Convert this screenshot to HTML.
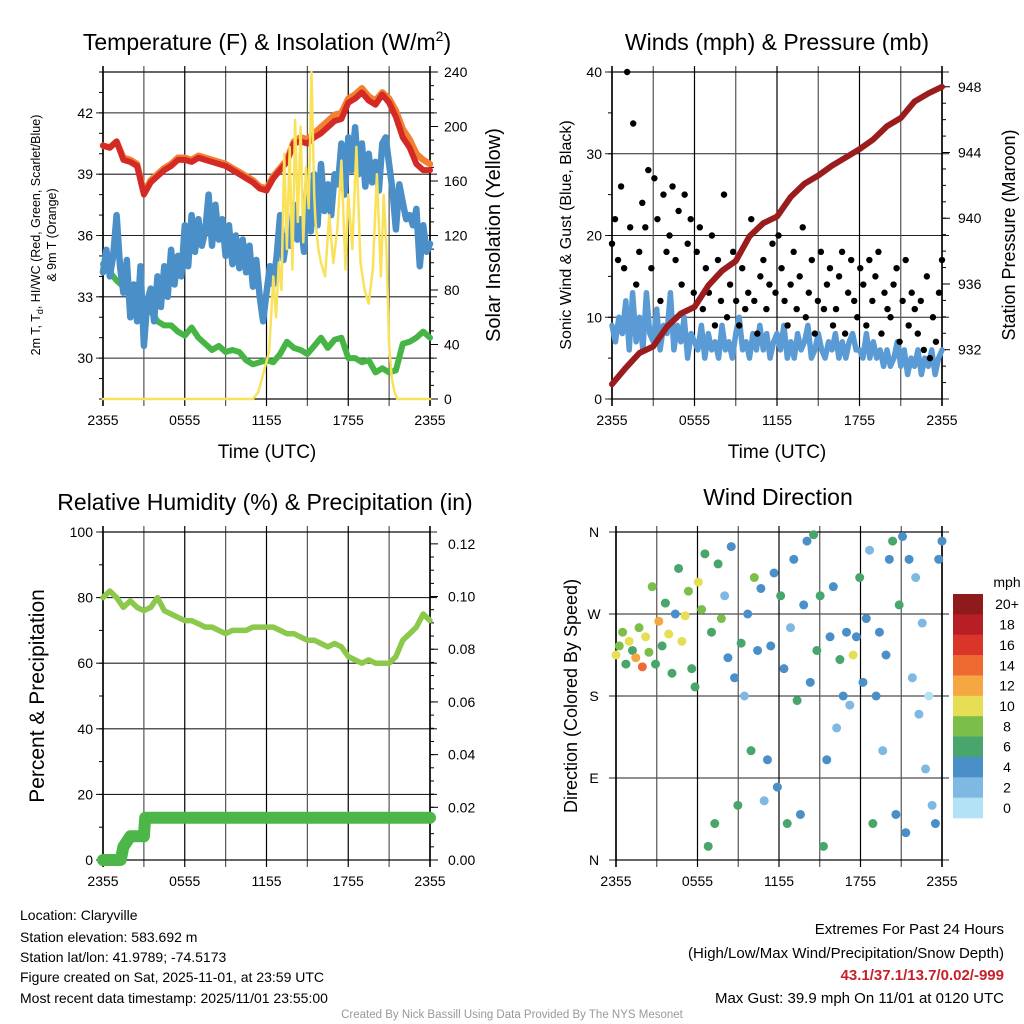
<!DOCTYPE html>
<html><head><meta charset="utf-8"><style>
body{margin:0;background:#fff;}
svg{display:block;font-family:"Liberation Sans",Arial,sans-serif;}
</style></head><body>
<svg id="c" width="1024" height="1024" viewBox="0 0 1024 1024" xmlns="http://www.w3.org/2000/svg">
<g id="g1"></g>
<g id="g2"></g>
<g id="g3"></g>
<g id="g4"></g>
<g font-size="14" fill="#000">
<text x="20" y="920">Location: Claryville</text>
<text x="20" y="942">Station elevation: 583.692 m</text>
<text x="20" y="962">Station lat/lon: 41.9789; -74.5173</text>
<text x="20" y="982">Figure created on Sat, 2025-11-01, at 23:59 UTC</text>
<text x="20" y="1003">Most recent data timestamp: 2025/11/01 23:55:00</text>
</g>
<g font-size="15" text-anchor="end">
<text x="1004" y="934">Extremes For Past 24 Hours</text>
<text x="1004" y="958">(High/Low/Max Wind/Precipitation/Snow Depth)</text>
<text x="1004" y="980" fill="#c8202a" font-weight="bold">43.1/37.1/13.7/0.02/-999</text>
<text x="1004" y="1003">Max Gust: 39.9 mph On 11/01 at 0120 UTC</text>
</g>
<text x="512" y="1018" text-anchor="middle" font-size="11.5" fill="#999">Created By Nick Bassill Using Data Provided By The NYS Mesonet</text>
</svg>
<script>
// ---- data ----
const xTickLabels = ["2355","0555","1155","1755","2355"];
const tempRed = [40.4,40.3,40.6,39.7,39.6,39.4,38.0,38.6,38.9,39.2,39.4,39.7,39.7,39.6,39.8,39.7,39.6,39.5,39.4,39.2,39.0,38.8,38.6,38.3,38.2,38.8,39.2,39.6,40.5,40.6,40.5,40.8,41.0,41.3,41.6,41.7,42.5,42.7,43.0,42.6,42.4,42.9,42.5,41.8,40.8,40.3,39.5,39.2,39.2];
const temp9m = [40.4,40.3,40.6,39.8,39.7,39.5,38.1,38.7,39.0,39.3,39.5,39.8,39.8,39.7,39.9,39.8,39.7,39.6,39.5,39.3,39.1,38.9,38.7,38.4,38.3,38.9,39.3,39.7,40.6,40.8,40.7,41.0,41.3,41.6,41.9,42.0,42.7,42.9,43.2,42.8,42.6,43.0,42.7,42.1,41.2,40.7,40.0,39.7,39.5];
const dewGreen = [34.6,34.2,33.8,33.5,33.0,32.5,32.5,32.3,31.8,31.6,31.6,31.3,31.1,31.5,31.0,30.7,30.4,30.6,30.3,30.4,30.3,29.9,29.7,29.8,29.9,29.8,30.2,30.8,30.5,30.4,30.2,30.6,31.0,30.5,30.9,31.0,30.0,30.0,29.8,29.9,29.3,29.5,29.3,29.4,30.7,30.8,31.0,31.3,31.0];
const windChill = [34.2,35.3,34.0,35.0,37.0,34.5,33.2,34.8,32.0,33.6,31.8,34.5,30.6,32.8,33.4,31.8,34.0,32.5,34.5,33.0,35.3,33.6,35.0,34.0,36.5,34.5,37.0,35.2,36.8,35.5,36.2,38.0,35.5,37.5,35.8,36.8,35.0,36.5,34.6,36.0,34.4,35.8,34.2,35.5,33.5,34.8,33.0,31.8,33.2,34.5,33.6,35.0,37.0,34.8,36.0,35.5,37.5,35.8,36.8,35.2,38.5,36.2,39.0,36.5,39.5,37.2,38.5,37.0,39.0,38.5,40.5,38.0,40.8,39.2,41.3,39.0,40.5,38.4,40.0,38.6,39.6,38.2,40.5,40.8,39.5,38.2,36.3,38.5,37.6,36.8,37.0,36.5,37.3,34.5,36.5,35.2,35.6];
const insolTimes = [0,11.0,11.4,11.8,12.2,12.5,12.7,12.9,13.1,13.3,13.5,13.7,13.9,14.1,14.3,14.5,14.7,14.9,15.1,15.3,15.5,15.6,15.8,16.0,16.3,16.6,16.9,17.2,17.5,17.8,18.0,18.3,18.6,18.9,19.2,19.5,19.8,20.1,20.4,20.6,20.8,21.0,21.2,21.4,21.6,22,24];
const insolValues = [0,0,5,20,35,90,60,100,80,180,110,185,95,205,130,200,115,170,140,240,150,130,110,100,90,135,100,125,175,95,150,110,185,100,80,70,95,165,90,150,110,40,15,5,0,0,0];
const sonicWind = [9,7,10,8,12,6,13,7,10,6,13,8,7,11,6,9,8,13,6,9,7,10,5,8,7,6,9,5,8,6,7,5,9,6,7,5,8,10,6,7,5,8,6,9,6,8,5,7,8,6,9,5,7,5,8,6,7,9,5,6,8,6,5,7,6,8,5,7,5,7,8,6,6,5,8,5,7,5,6,4,6,4,5,7,4,6,3,5,4,6,3,5,4,6,3,5,6];
const gusts = [19,22,17,26,16,40,21,33.7,14,18,24,21,28,16,27,22,12,25,18,20,26,17,23,14,25,19,22,13,18,21,11,16,13,20,9,17,12,25,10,14,18,12,9,16,11,13,22,12,8,15,17,11,14,19,13,20,16,12,9,14,18,11,15,21,10,13,17,8,12,18,11,14,16,9,11,15,18,8,13,17,12,10,16,14,9,17,12,15,18,8,13,11,10,14,16,7,12,17,9,13,11,8,12,6,15,5,10,7,13,17];
const pressure = [929.9,930.9,931.8,932.2,933.4,934.2,934.6,935.9,936.8,937.4,938.9,939.7,940.1,941.3,942.1,942.6,943.2,943.7,944.2,944.8,945.6,946.1,947.1,947.6,948.0];
const rh = [80,82,80,77,79,77,76,77,80,76,75,74,73,73,72,71,71,70,69,70,70,70,71,71,71,71,70,69,69,68,67,67,66,65,66,65,62,61,60,61,60,60,60,62,67,69,71,75,73];
const precipTimes = [0,1.3,1.5,2.0,3.0,3.1,24];
const precipValues = [0,0,0.005,0.009,0.009,0.016,0.016];
const windDir = [225,235,250,215,240,230,222,255,212,245,228,300,215,262,235,282,248,205,270,320,240,268,295,210,190,305,275,336,15,250,40,325,265,290,222,344,200,60,238,180,270,120,310,230,298,65,110,235,315,80,290,210,40,255,330,175,50,280,350,195,357,230,290,15,110,245,300,145,220,180,250,170,225,245,310,195,265,340,40,180,250,120,225,330,350,50,280,355,30,330,200,310,160,260,100,180,60,40,330,350];
const windSpd = [10,9,8,7,11,6,12,9,15,10,8,9,7,13,6,7,10,6,4,7,11,10,9,6,7,10,8,7,6,7,7,6,9,3,5,4,4,6,7,3,4,6,8,4,5,2,4,5,4,4,6,5,6,3,4,6,4,5,4,4,6,7,6,6,4,5,4,3,6,4,5,3,10,4,6,5,5,2,6,4,5,2,4,4,7,4,6,4,4,4,2,2,2,2,2,1,2,4,4,4];
const speedLabels = ["20+","18","16","14","12","10","8","6","4","2","0"];
const speedColors = ["#8f1a1c","#b81e25","#d93529","#ee6a30","#f5a742","#e6df55","#7bbf4a","#48a56c","#4a8fc7","#7db9e3","#b3e1f6"];
const dirLabels = ["N","E","S","W","N"];

// ---- helpers ----
const NS="http://www.w3.org/2000/svg";
function mk(parent,tag,attrs,txt){const e=document.createElementNS(NS,tag);for(const k in attrs)e.setAttribute(k,attrs[k]);if(txt!==undefined)e.textContent=txt;parent.appendChild(e);return e;}
function lin(d0,d1,r0,r1){return v=>r0+(v-d0)*(r1-r0)/(d1-d0);}
function pathFrom(ts,vs,sx,sy){return ts.map((t,i)=>(i?"L":"M")+sx(t).toFixed(1)+","+sy(vs[i]).toFixed(1)).join("");}
function uniformTimes(n){const a=[];for(let i=0;i<n;i++)a.push(i*24/(n-1));return a;}

function frame(g,L,R,T,B,sx){
  for(let h=0;h<=24;h+=3){
    const x=sx(h);
    const l=mk(g,"line",{x1:x,x2:x,y1:T-6,y2:B+7,stroke:h%6==0?"#000":"#555","stroke-width":h==0||h==24?1.6:1.2});
    
    
  }
  mk(g,"rect",{x:L,y:T,width:R-L,height:B-T,fill:"none",stroke:"#000","stroke-width":1.2});
  xTickLabels.forEach((s,i)=>{
    const t=mk(g,"text",{x:sx(i*6),y:B+26,"font-size":14,"text-anchor":"middle"},s);
    
    
  });
}
function hgrid(g,L,R,y,ext){
  const l=mk(g,"line",{x1:L-ext,x2:R+ext,y1:y,y2:y,stroke:"#222","stroke-width":1.1});
  
  
}
function ylab(g,x,y,s,anchor,size){
  const t=mk(g,"text",{x:x,y:y+5,"font-size":size||14,"text-anchor":anchor},s);
  
  
}
function rotText(g,x,y,s,size,name){
  const t=mk(g,"text",{x:0,y:0,"font-size":size,"text-anchor":"middle",transform:`translate(${x},${y}) rotate(-90)`},s);
  
  
  return t;
}
function title(g,x,y,s,name){
  const t=mk(g,"text",{x:x,y:y,"font-size":23,"text-anchor":"middle"},s);
  
  
  return t;
}
function series(g,d,color,w,name){
  const p=mk(g,"path",{d:d,fill:"none",stroke:color,"stroke-width":w,"stroke-linejoin":"round","stroke-linecap":"round"});
  
  
}

// ---- Panel 1 ----
(function(){
  const g=document.getElementById("g1");
  const L=103,R=430,T=72,B=399;
  const sx=lin(0,24,L,R), sy=lin(28,44,B,T), sy2=lin(0,240,B,T);
  [30,33,36,39,42].forEach(v=>{hgrid(g,L,R,sy(v),7);ylab(g,L-10,sy(v),String(v),"end");});
  for(let v=28;v<=44;v+=1){mk(g,"line",{x1:L-4,x2:L,y1:sy(v),y2:sy(v),stroke:"#000"});}
  [0,40,80,120,160,200,240].forEach(v=>{mk(g,"line",{x1:R,x2:R+8,y1:sy2(v),y2:sy2(v),stroke:"#000"});ylab(g,R+14,sy2(v),String(v),"start");});
  for(let v=0;v<=240;v+=10){mk(g,"line",{x1:R,x2:R+4,y1:sy2(v),y2:sy2(v),stroke:"#000"});}
  frame(g,L,R,T,B,sx);
  const t49=uniformTimes(49), t97=uniformTimes(97);
  series(g,pathFrom(t49,dewGreen,sx,sy),"#46b545",6,"dewpoint-line");
  series(g,pathFrom(t97,windChill,sx,sy),"#4a8fc8",6.5,"wind-chill-line");
  series(g,pathFrom(t49,temp9m,sx,sy),"#f28030",6.5,"temp-9m-line");
  series(g,pathFrom(t49,tempRed,sx,sy),"#d42a26",6,"temp-2m-line");
  series(g,pathFrom(insolTimes,insolValues,sx,sy2),"#f9e25a",2.5,"insolation-line");
  title(g,267,50,"","panel-title").innerHTML='Temperature (F) &amp; Insolation (W/m<tspan dy="-9" font-size="14">2</tspan><tspan dy="9">)</tspan>';
  const a=mk(g,"text",{x:267,y:458,"font-size":19,"text-anchor":"middle"},"Time (UTC)");
  
  
  const yt=rotText(g,40,235,"",12.5,"y-axis-title");
  yt.innerHTML='2m T, T<tspan font-size="9" dy="3">d</tspan><tspan dy="-3">, HI/WC (Red, Green, Scarlet/Blue)</tspan>';
  rotText(g,56,235,"& 9m T (Orange)",12.5,"y-axis-title-line2");
  rotText(g,500,235,"Solar Insolation (Yellow)",20,"y2-axis-title");
})();

// ---- Panel 2 ----
(function(){
  const g=document.getElementById("g2");
  const L=612,R=942,T=72,B=399;
  const sx=lin(0,24,L,R), sy=lin(0,40,B,T), sy2=lin(929.0,948.9,B,T);
  [0,10,20,30,40].forEach(v=>{hgrid(g,L,R,sy(v),7);ylab(g,L-10,sy(v),String(v),"end");});
  for(let v=0;v<=40;v+=5){mk(g,"line",{x1:L-4,x2:L,y1:sy(v),y2:sy(v),stroke:"#000"});}
  [932,936,940,944,948].forEach(v=>{mk(g,"line",{x1:R,x2:R+8,y1:sy2(v),y2:sy2(v),stroke:"#000"});ylab(g,R+16,sy2(v),String(v),"start");});
  for(let v=930;v<=948;v+=1){mk(g,"line",{x1:R,x2:R+4,y1:sy2(v),y2:sy2(v),stroke:"#000"});}
  frame(g,L,R,T,B,sx);
  series(g,pathFrom(uniformTimes(97),sonicWind,sx,sy),"#5b9bd5",5.5,"sonic-wind-line");
  const gt=uniformTimes(gusts.length);
  gusts.forEach((v,i)=>{
    const c=mk(g,"circle",{cx:sx(gt[i]),cy:sy(v),r:3.2,fill:"#000"});
    
    
  });
  series(g,pathFrom(uniformTimes(25),pressure,sx,sy2),"#9b1c1c",6,"pressure-line");
  title(g,777,50,"Winds (mph) & Pressure (mb)","panel-title");
  const a=mk(g,"text",{x:777,y:458,"font-size":19,"text-anchor":"middle"},"Time (UTC)");
  
  
  rotText(g,571,235,"Sonic Wind & Gust (Blue, Black)",16,"y-axis-title");
  rotText(g,1015,235,"Station Pressure (Maroon)",18,"y2-axis-title");
})();

// ---- Panel 3 ----
(function(){
  const g=document.getElementById("g3");
  const L=103,R=430,T=532,B=860;
  const sx=lin(0,24,L,R), sy=lin(0,100,B,T), sy2=lin(0,0.1245,B,T);
  [0,20,40,60,80,100].forEach(v=>{hgrid(g,L,R,sy(v),7);ylab(g,L-10,sy(v),String(v),"end");});
  for(let v=0;v<=100;v+=10){mk(g,"line",{x1:L-4,x2:L,y1:sy(v),y2:sy(v),stroke:"#000"});}
  [0,0.02,0.04,0.06,0.08,0.10,0.12].forEach(v=>{mk(g,"line",{x1:R,x2:R+8,y1:sy2(v),y2:sy2(v),stroke:"#000"});ylab(g,R+18,sy2(v),v.toFixed(2),"start");});
  for(let v=0;v<=0.12;v+=0.005){mk(g,"line",{x1:R,x2:R+4,y1:sy2(v),y2:sy2(v),stroke:"#000"});}
  frame(g,L,R,T,B,sx);
  series(g,pathFrom(uniformTimes(49),rh,sx,sy),"#8cc84b",5.5,"rh-line");
  series(g,pathFrom(precipTimes,precipValues,sx,sy2),"#4cb748",12,"precip-line");
  title(g,265,510,"Relative Humidity (%) & Precipitation (in)","panel-title");
  rotText(g,44,696,"Percent & Precipitation",21,"y-axis-title");
})();

// ---- Panel 4 ----
(function(){
  const g=document.getElementById("g4");
  const L=616,R=942,T=532,B=860;
  const sx=lin(0,24,L,R), sy=lin(0,360,B,T);
  dirLabels.forEach((s,i)=>{hgrid(g,L,R,sy(i*90),7);ylab(g,L-22,sy(i*90),s,"middle",14);});
  frame(g,L,R,T,B,sx);
  const wt=uniformTimes(windDir.length);
  windDir.forEach((d,i)=>{
    const k=Math.min(10,Math.floor(windSpd[i]/2));
    const c=mk(g,"circle",{cx:sx(wt[i]),cy:sy(d),r:4.5,fill:speedColors[10-k]});
    
    
  });
  title(g,778,505,"Wind Direction","panel-title");
  rotText(g,577,696,"Direction (Colored By Speed)",18,"y-axis-title");
  const bh=224/speedLabels.length;
  speedLabels.forEach((s,i)=>{
    const r=mk(g,"rect",{x:953,y:594+i*bh,width:30,height:bh+0.3,fill:speedColors[i]});
    
    
    const t=mk(g,"text",{x:1007,y:594+i*bh+bh/2+5,"font-size":14,"text-anchor":"middle"},s);
    
    
  });
  const u=mk(g,"text",{x:1007,y:587,"font-size":14,"text-anchor":"middle"},"mph");
  
  
})();
</script>
</body></html>
